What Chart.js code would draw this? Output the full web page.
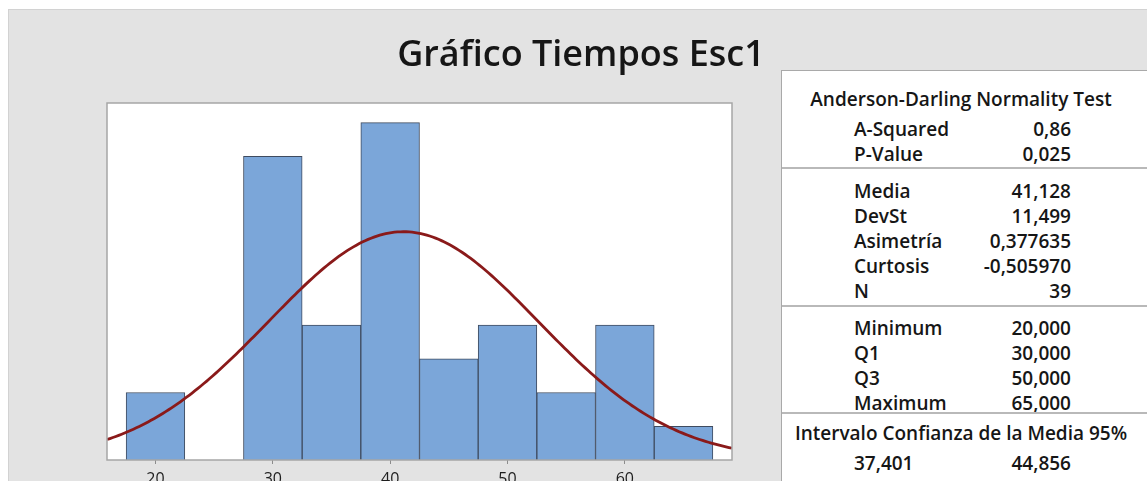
<!DOCTYPE html>
<html>
<head>
<meta charset="utf-8">
<title>Gráfico Tiempos Esc1</title>
<script src="https://cdn.jsdelivr.net/npm/chart.js"></script>
<style>
  body { margin: 0; width: 1147px; height: 481px; overflow: hidden; position: relative; background: #fff; font-family: 'Open Sans', sans-serif; color: #161616; }
  #fondo { position: absolute; left: 8px; top: 9px; right: 0; bottom: 0; background: #e3e3e3; border-left: 1px solid #d2d2d2; border-top: 1px solid #d2d2d2; }
  #grafico { position: absolute; left: 0; top: 0; }
  #titulo { position: absolute; left: 0; width: 1162px; top: 33px; line-height: 40px; text-align: center; font-size: 36px; font-weight: 600; }
  #panel { position: absolute; left: 781px; top: 70px; width: 400px; height: 440px; background: #fff; border: 1px solid #a9a9a9; }
  .fila { position: absolute; height: 25px; line-height: 25px; font-size: 19px; font-weight: 600; white-space: nowrap; }
  .sep { position: absolute; left: 0; right: 0; height: 2px; background: #b9b9b9; }
</style>
</head>
<body>
<div id="fondo"></div>
<canvas id="grafico" width="781" height="481"></canvas>
<div id="titulo">Gráfico Tiempos Esc1</div>
<div id="panel"></div>
<script>
  // Histograma de tiempos: clases de ancho 5 centradas en estos valores
  var clases = [20, 25, 30, 35, 40, 45, 50, 55, 60, 65];
  var frecuencias = [2, 0, 9, 4, 10, 3, 4, 2, 4, 1];
  var marcasX = [20, 30, 40, 50, 60];
  var anchoClase = 5;

  // Estadísticos de la muestra
  var media = 41.128;
  var desv = 11.499;
  var n = 39;
  var pruebaAD = [['A-Squared', '0,86'], ['P-Value', '0,025']];
  var descriptivos = [['Media', '41,128'], ['DevSt', '11,499'], ['Asimetría', '0,377635'], ['Curtosis', '-0,505970'], ['N', '39']];
  var cuartiles = [['Minimum', '20,000'], ['Q1', '30,000'], ['Q3', '50,000'], ['Maximum', '65,000']];
  var intervalo = ['37,401', '44,856'];

  var xMin = 15.87, xMax = 69.13;

  // Curva normal ajustada, escalada a frecuencias (n * ancho de clase)
  var curva = [];
  for (var x = xMin; x <= xMax + 0.001; x += 0.25) {
    var z = (x - media) / desv;
    curva.push({ x: x, y: n * anchoClase * Math.exp(-z * z / 2) / (desv * Math.sqrt(2 * Math.PI)) });
  }

  // Fondo blanco y marco gris del área del gráfico
  var marco = {
    id: 'marco',
    beforeDraw: function (chart) {
      var a = chart.chartArea, c = chart.ctx;
      c.save();
      c.fillStyle = '#fff';
      c.fillRect(a.left, a.top, a.right - a.left, a.bottom - a.top);
      c.restore();
    },
    afterDraw: function (chart) {
      var a = chart.chartArea, c = chart.ctx;
      c.save();
      c.strokeStyle = '#a6a6a6';
      c.lineWidth = 1.5;
      c.strokeRect(a.left, a.top, a.right - a.left, a.bottom - a.top);
      c.restore();
    }
  };

  new Chart(document.getElementById('grafico').getContext('2d'), {
    data: {
      datasets: [
        {
          type: 'line',
          data: curva,
          borderColor: '#8a1a1a',
          borderWidth: 2.8,
          pointRadius: 0,
          order: 0
        },
        {
          type: 'bar',
          data: clases.map(function (c, i) { return { x: c, y: frecuencias[i] }; }),
          backgroundColor: '#7ba6d9',
          borderColor: '#3f4b5f',
          borderWidth: 1,
          barPercentage: 1,
          categoryPercentage: 1,
          order: 1
        }
      ]
    },
    options: {
      responsive: false,
      animation: false,
      devicePixelRatio: 1,
      layout: { padding: { left: 107, right: 49, top: 103, bottom: 0 } },
      plugins: { legend: { display: false }, tooltip: { enabled: false } },
      scales: {
        x: {
          type: 'linear',
          min: xMin,
          max: xMax,
          offset: false,
          afterBuildTicks: function (axis) { axis.ticks = marcasX.map(function (v) { return { value: v }; }); },
          afterFit: function (axis) { axis.height = 21; },
          grid: { offset: false, drawOnChartArea: false, tickLength: 4, color: '#8c8c8c' },
          border: { display: false },
          ticks: { padding: 6, color: '#1e1e1e', font: { family: 'Open Sans', size: 16 } }
        },
        y: { display: false, min: 0, max: 10.58 }
      }
    },
    plugins: [marco]
  });

  // Tabla de estadísticos
  var panel = document.getElementById('panel');
  var x0 = 781, y0 = 70;
  function fila(texto, izq, der, centro, y) {
    var d = document.createElement('div');
    d.className = 'fila';
    d.textContent = texto;
    d.style.top = (y - y0 - 12.5) + 'px';
    if (centro) { d.style.left = '0'; d.style.width = '358px'; d.style.textAlign = 'center'; }
    else if (der) { d.style.right = (400 - (1070 - x0)) + 'px'; }
    else { d.style.left = (izq - x0) + 'px'; }
    panel.appendChild(d);
  }
  function separador(y) {
    var s = document.createElement('div');
    s.className = 'sep';
    s.style.top = (y - y0 - 1) + 'px';
    panel.appendChild(s);
  }
  function bloque(filas, yIni) {
    filas.forEach(function (f, i) {
      fila(f[0], 853, false, false, yIni + i * 25);
      fila(f[1], 0, true, false, yIni + i * 25);
    });
  }

  fila('Anderson-Darling Normality Test', 0, false, true, 98);
  bloque(pruebaAD, 128);
  separador(167);
  bloque(descriptivos, 190);
  separador(305);
  bloque(cuartiles, 327);
  separador(412);
  fila('Intervalo Confianza de la Media 95%', 0, false, true, 432);
  fila(intervalo[0], 853, false, false, 462);
  fila(intervalo[1], 0, true, false, 462);
</script>
</body>
</html>
